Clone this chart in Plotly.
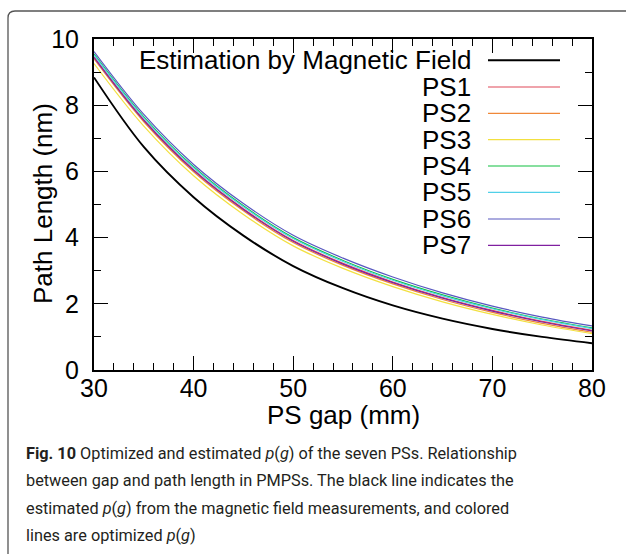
import plotly.graph_objects as go

# ---------------- data ----------------
gap_mm = [30, 35, 40, 45, 50, 55, 60, 65, 70, 75, 80]
estimation = [8.84, 6.74, 5.22, 4.06, 3.14, 2.47, 1.95, 1.55, 1.24, 1.00, 0.81]
ps1 = [9.46, 7.56, 6.05, 4.87, 3.91, 3.22, 2.66, 2.19, 1.80, 1.47, 1.20]
ps2 = [9.40, 7.50, 5.99, 4.81, 3.85, 3.16, 2.60, 2.13, 1.74, 1.41, 1.14]
ps3 = [9.26, 7.37, 5.87, 4.70, 3.75, 3.07, 2.52, 2.06, 1.68, 1.36, 1.10]
ps4 = [9.55, 7.65, 6.14, 4.96, 4.00, 3.31, 2.74, 2.27, 1.87, 1.54, 1.27]
ps5 = [9.52, 7.62, 6.11, 4.93, 3.97, 3.28, 2.71, 2.24, 1.85, 1.52, 1.25]
ps6 = [9.62, 7.72, 6.21, 5.03, 4.07, 3.38, 2.81, 2.33, 1.93, 1.60, 1.33]
ps7 = [9.44, 7.54, 6.03, 4.85, 3.89, 3.20, 2.64, 2.17, 1.78, 1.45, 1.18]

series_names = ["Estimation by Magnetic Field", "PS1", "PS2", "PS3", "PS4", "PS5", "PS6", "PS7"]
series_values = [estimation, ps1, ps2, ps3, ps4, ps5, ps6, ps7]
series_colors = ["#000000", "#e04858", "#f08838", "#f2e040", "#10c040", "#50d0e8", "#5858c0", "#8020a0"]
series_widths = [1.9, 1.2, 1.2, 1.2, 1.2, 1.2, 1.2, 1.2]

x_title = "PS gap (mm)"
y_title = "Path Length (nm)"

caption_lines = [
    "<b>Fig. 10</b> Optimized and estimated <i>p</i>(<i>g</i>) of the seven PSs. Relationship",
    "between gap and path length in PMPSs. The black line indicates the",
    "estimated <i>p</i>(<i>g</i>) from the magnetic field measurements, and colored",
    "lines are optimized <i>p</i>(<i>g</i>)",
]

# ---------------- layout helpers ----------------
W, H = 626, 554
L, R, T, B = 94, 592, 39, 370


def xp(px):
    return (px - L) / (R - L)


def yp(py):
    return (B - py) / (B - T)


FONT = "Liberation Sans, Arial, Helvetica, sans-serif"
CAP_FONT = "Roboto, sans-serif"

fig = go.Figure()
order = [1, 2, 3, 4, 5, 6, 7, 0]
for i in order:
    fig.add_trace(go.Scatter(
        x=gap_mm, y=series_values[i], mode="lines", name=series_names[i],
        line=dict(color=series_colors[i], width=series_widths[i], shape="spline", smoothing=1.0),
        showlegend=False, hoverinfo="skip",
    ))

shapes = []
annotations = []

# custom legend (text right-aligned, sample line on the right)
leg_rows = [60.3, 87, 113.3, 139.7, 166, 192.3, 219, 245.3]
for name, col, wd, ry in zip(series_names, series_colors, series_widths, leg_rows):
    annotations.append(dict(
        x=xp(473), y=yp(ry), xref="paper", yref="paper",
        text=name, showarrow=False, xanchor="right", yanchor="middle",
        font=dict(family=FONT, size=26, color="black"),
    ))
    shapes.append(dict(
        type="line", xref="paper", yref="paper",
        x0=xp(488), x1=xp(560), y0=yp(ry), y1=yp(ry),
        line=dict(color=col, width=wd),
    ))

# axis titles
annotations.append(dict(
    x=xp(343), y=yp(415), xref="paper", yref="paper", text=x_title,
    showarrow=False, xanchor="center", yanchor="middle",
    font=dict(family=FONT, size=26, color="black"),
))
annotations.append(dict(
    x=xp(43), y=yp(204), xref="paper", yref="paper", text=y_title,
    showarrow=False, xanchor="center", yanchor="middle", textangle=-90,
    font=dict(family=FONT, size=26, color="black"),
))

# caption
cap_rows = [453, 480, 508, 535]
for txt, ry in zip(caption_lines, cap_rows):
    annotations.append(dict(
        x=xp(24), y=yp(ry), xref="paper", yref="paper",
        text=txt, showarrow=False, xanchor="left", yanchor="middle",
        font=dict(family=CAP_FONT, size=16.3, color="#231f20"),
    ))

# rounded border (right and bottom sides run off the picture)
x0, y0, r = 8, 11, 7
path = (f"M {xp(x0)},{yp(H + 20)} L {xp(x0)},{yp(y0 + r)} "
        f"Q {xp(x0)},{yp(y0)} {xp(x0 + r)},{yp(y0)} L {xp(W + 20)},{yp(y0)}")
shapes.append(dict(type="path", xref="paper", yref="paper", path=path,
                   line=dict(color="#555555", width=1.3)))

axis_common = dict(
    showline=True, linecolor="black", linewidth=2, mirror="allticks",
    ticks="inside", ticklen=14, tickwidth=1.3, tickcolor="black",
    showgrid=False, zeroline=False,
    tickfont=dict(family=FONT, size=25, color="black"),
)

fig.update_layout(
    width=W, height=H,
    margin=dict(l=L, r=W - R, t=T, b=H - B, pad=0),
    paper_bgcolor="white", plot_bgcolor="white",
    showlegend=False,
    xaxis=dict(range=[30, 80], dtick=10, tick0=30,
               minor=dict(dtick=2, ticks="inside", ticklen=7, tickwidth=1.3, tickcolor="black"),
               **axis_common),
    yaxis=dict(range=[0, 10], dtick=2, tick0=0,
               minor=dict(dtick=1, ticks="inside", ticklen=7, tickwidth=1.3, tickcolor="black"),
               ticklabelstandoff=8, **axis_common),
    shapes=shapes,
    annotations=annotations,
)
try:
    fig.update_xaxes(ticklabelstandoff=-5)
except Exception:
    pass

fig.write_html("out.html")
